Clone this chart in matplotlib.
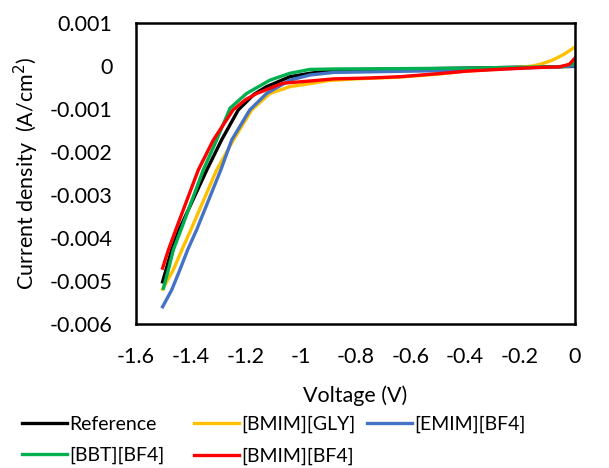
import matplotlib.pyplot as plt

plt.rcParams['font.family'] = ['Lato', 'DejaVu Sans']

# voltage (V) / current density (A/cm2)
ref_v = [-1.503, -1.47, -1.443, -1.342, -1.288, -1.227, -1.17, -1.124, -1.039, -0.966, -0.88, -0.6, -0.4, -0.2, 0.0]
ref_j = [-0.00502, -0.00428, -0.00381, -0.00242, -0.00172, -0.00102, -0.00066, -0.00048, -0.00025, -0.00017, -0.0001, -0.00007, -0.00005, -0.00003, -0.00001]

gly_v = [-1.503, -1.464, -1.433, -1.4, -1.306, -1.245, -1.178, -1.112, -1.039, -0.966, -0.9, -0.8, -0.64, -0.5, -0.4, -0.2, -0.153, -0.12, -0.08, -0.04, 0.0]
gly_j = [-0.00519, -0.00474, -0.00428, -0.00381, -0.00242, -0.00172, -0.00102, -0.00064, -0.00048, -0.00041, -0.00034, -0.0003, -0.00026, -0.00019, -0.00012, -0.00003, 0.0, 0.00005, 0.00014, 0.00027, 0.00044]

emim_v = [-1.503, -1.47, -1.44, -1.412, -1.379, -1.291, -1.251, -1.185, -1.124, -1.039, -0.966, -0.88, -0.6, -0.4, -0.2, 0.0]
emim_j = [-0.0056, -0.00521, -0.00474, -0.00428, -0.00381, -0.00242, -0.00172, -0.00102, -0.00064, -0.00033, -0.00021, -0.00015, -0.00012, -0.0001, -0.00005, 0.0]

bbt_v = [-1.5, -1.482, -1.464, -1.436, -1.355, -1.306, -1.257, -1.197, -1.112, -1.039, -0.966, -0.88, -0.6, -0.4, -0.2, -0.05, 0.0]
bbt_j = [-0.00517, -0.00474, -0.00428, -0.00381, -0.00242, -0.00172, -0.00098, -0.00064, -0.00033, -0.00017, -0.00008, -0.00007, -0.00006, -0.00005, -0.00003, -0.00002, 0.00006]

bmim_v = [-1.503, -1.482, -1.455, -1.373, -1.318, -1.246, -1.2, -1.16, -1.064, -0.966, -0.88, -0.75, -0.638, -0.5, -0.394, -0.25, -0.153, -0.055, -0.02, 0.0]
bmim_j = [-0.0047, -0.00428, -0.00381, -0.00242, -0.00172, -0.00102, -0.00078, -0.00064, -0.0004, -0.00035, -0.0003, -0.00028, -0.00025, -0.00018, -0.00012, -0.00007, -0.00004, -0.00002, 0.00004, 0.00018]

x_ticks = [-1.6, -1.4, -1.2, -1, -0.8, -0.6, -0.4, -0.2, 0]
y_ticks = [0.001, 0, -0.001, -0.002, -0.003, -0.004, -0.005, -0.006]

fig = plt.figure(figsize=(6.09, 4.68), dpi=100)
ax = fig.add_axes([0.2233, 0.3077, 0.7207, 0.6432])

lw = 2.4
l_ref, = ax.plot(ref_v, ref_j, color='black', lw=lw, label='Reference')
l_gly, = ax.plot(gly_v, gly_j, color='#FFC000', lw=lw, label='[BMIM][GLY]')
l_emim, = ax.plot(emim_v, emim_j, color='#4472C4', lw=lw, label='[EMIM][BF4]')
l_bbt, = ax.plot(bbt_v, bbt_j, color='#00B050', lw=lw, label='[BBT][BF4]')
l_bmim, = ax.plot(bmim_v, bmim_j, color='#FF0000', lw=lw, label='[BMIM][BF4]')

ax.set_xlim(-1.6, 0)
ax.set_ylim(-0.006, 0.001)
ax.set_xticks(x_ticks)
ax.set_xticklabels(['%g' % t for t in x_ticks])
ax.set_yticks(y_ticks)
ax.set_yticklabels(['%g' % t for t in y_ticks])
ax.tick_params(length=0, labelsize=15.5)
ax.tick_params(axis='y', pad=17)
ax.tick_params(axis='x', pad=16.5)
for s in ax.spines.values():
    s.set_linewidth(1.8)

ax.set_xlabel('Voltage (V)', fontsize=15.5, labelpad=13)
ax.set_ylabel('Current density  (A/cm$^2$)', fontsize=15.5, labelpad=6)

# Excel-like legend: fixed column positions, two rows
columns = [([l_ref, l_bbt], 22), ([l_gly, l_bmim], 194), ([l_emim], 367)]
for hs, xpix in columns:
    leg = fig.legend(handles=hs, labels=[h.get_label() for h in hs],
                     loc='upper left', bbox_to_anchor=(xpix / 609, 1 - 416 / 468),
                     frameon=False, fontsize=14, handlelength=2.3,
                     handletextpad=0.15, labelspacing=0.72,
                     borderpad=0, borderaxespad=0)

fig.savefig('out.png', dpi=100)
